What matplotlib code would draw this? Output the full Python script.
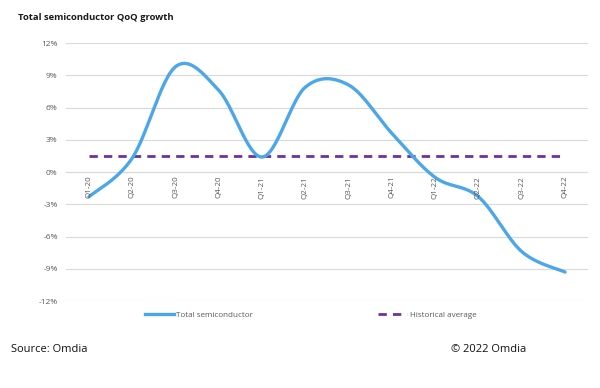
import numpy as np
import matplotlib
matplotlib.use("Agg")
import matplotlib.pyplot as plt
from matplotlib.lines import Line2D

quarters = ["Q1-20", "Q2-20", "Q3-20", "Q4-20", "Q1-21", "Q2-21", "Q3-21",
            "Q4-21", "Q1-22", "Q2-22", "Q3-22", "Q4-22"]
total_semi = [-2.3, 1.3, 9.8, 7.6, 1.4, 7.9, 8.1, 3.6, -0.5, -2.3, -7.4, -9.3]
hist_avg = [1.5] * len(quarters)
yticks = [-12, -9, -6, -3, 0, 3, 6, 9, 12]


def smooth(xs, ys, n=30, t=1/6):
    # Excel-like smoothed line (cubic Bezier through points)
    xs = np.asarray(xs, float); ys = np.asarray(ys, float)
    px = np.concatenate([[xs[0]], xs, [xs[-1]]])
    py = np.concatenate([[ys[0]], ys, [ys[-1]]])
    ox, oy = [], []
    for i in range(1, len(px) - 2):
        p0 = np.array([px[i], py[i]]); p3 = np.array([px[i+1], py[i+1]])
        c1 = p0 + t * (np.array([px[i+1], py[i+1]]) - np.array([px[i-1], py[i-1]]))
        c2 = p3 - t * (np.array([px[i+2], py[i+2]]) - np.array([px[i], py[i]]))
        s = np.linspace(0, 1, n)[:, None]
        b = (1-s)**3*p0 + 3*(1-s)**2*s*c1 + 3*(1-s)*s**2*c2 + s**3*p3
        ox.extend(b[:, 0]); oy.extend(b[:, 1])
    return np.array(ox), np.array(oy)


plt.rcParams['font.family'] = ['Open Sans', 'DejaVu Sans']
fig = plt.figure(figsize=(6, 3.88), dpi=100)
ax = fig.add_axes([0.11, 0.224, 0.87, 0.665])

x = np.arange(len(quarters))
sx, sy = smooth(x, total_semi)
blue = "#4BA7EA"
purple = "#7030A0"
ax.plot(sx, sy, color=blue, lw=2.4, solid_capstyle="round", zorder=3)
ax.plot(x, hist_avg, color=purple, lw=2.0, dashes=(3, 2.2), zorder=2)

ax.set_ylim(-12, 12)
ax.set_xlim(-0.53, 11.53)
ax.set_yticks(yticks)
ax.set_yticklabels([f"{v}%" for v in yticks], color="#595959", fontsize=6)
ax.tick_params(axis="y", length=0, pad=6)
ax.set_xticks([])
ax.grid(axis="y", color="#D9D9D9", lw=0.8)
ax.set_axisbelow(True)
for s in ax.spines.values():
    s.set_visible(False)
ax.axhline(0, color="#D9D9D9", lw=0.8, zorder=1)

for xi, q in zip(x, quarters):
    ax.text(xi, -0.35, q, rotation=90, ha="center", va="top",
            fontsize=5.8, color="#595959")

fig.text(0.03, 0.956, "Total semiconductor QoQ growth", fontsize=6.8,
         fontweight="bold", color="#1a1a1a", va="center")

h1 = [Line2D([], [], color=blue, lw=2.4)]
h2 = [Line2D([], [], color=purple, lw=2.0, dashes=(3, 2.2))]
leg1 = fig.legend(h1, ["Total semiconductor"], loc="center left",
                  bbox_to_anchor=(0.237, 0.188), frameon=False, fontsize=5.8,
                  handlelength=3.6, handletextpad=0.2, borderaxespad=0)
leg2 = fig.legend(h2, ["Historical average"], loc="center left",
                  bbox_to_anchor=(0.625, 0.188), frameon=False, fontsize=5.8,
                  handlelength=3.6, handletextpad=0.4, borderaxespad=0)
for lg in (leg1, leg2):
    for t in lg.get_texts():
        t.set_color("#595959")

fig.text(0.018, 0.1, "Source: Omdia", fontsize=8, color="#111111", va="center")
fig.text(0.752, 0.1, "\u00a9 2022 Omdia", fontsize=8, color="#111111", va="center")

fig.savefig("out.png", dpi=100, facecolor="white")
